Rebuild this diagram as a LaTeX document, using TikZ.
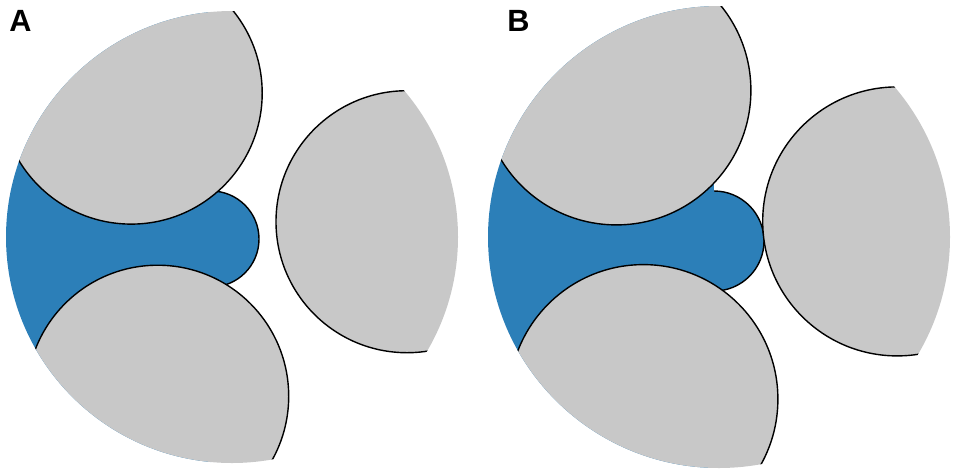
\documentclass[tikz,border=0pt]{standalone}
\usepackage{fontspec}
\setmainfont{Liberation Sans}
\definecolor{cellblue}{RGB}{44,127,184}
\definecolor{cellgray}{RGB}{200,200,200}
\begin{document}
\begin{tikzpicture}[x=1pt,y=-1pt,
  graycell/.style={fill=cellgray,draw=black,line width=1.4pt},
  bluefill/.style={fill=cellblue},
  blueedge/.style={draw=black,line width=1.4pt},
  paneltag/.style={font=\fontsize{30.7}{32}\selectfont\bfseries,inner sep=0pt}]
\useasboundingbox (0,0) rectangle (957,475);
% ---------- panel A ----------
\begin{scope}
  \clip (232,237) circle[radius=226pt];
  \fill[bluefill] (0,0) rectangle (211,475);
  \fill[bluefill] (211,239) circle[radius=48pt];
  \begin{scope}
    \clip (211,0) rectangle (480,475);
    \draw[blueedge] (211,239) circle[radius=48pt];
  \end{scope}
  \path[graycell] (131.2,93.1) circle[radius=131pt];
  \path[graycell] (157.7,396.2) circle[radius=131pt];
  \path[graycell] (407.0,221.7) circle[radius=131pt];
\end{scope}
% ---------- panel B ----------
\begin{scope}
  \clip (719,237) circle[radius=231pt];
  \fill[bluefill] (480,0) rectangle (714,475);
  \fill[bluefill] (714,241) circle[radius=50pt];
  \begin{scope}
    \clip (714,0) rectangle (957,475);
    \draw[blueedge] (714,241) circle[radius=50pt];
  \end{scope}
  \path[graycell] (616.4,90.4) circle[radius=134.5pt];
  \path[graycell] (643.4,399.1) circle[radius=134.5pt];
  \path[graycell] (897.2,221.4) circle[radius=134.5pt];
\end{scope}
\node[paneltag] (labA) at (20.5,21) {A};
\node[paneltag] (labB) at (518.5,21) {B};
\end{tikzpicture}
\end{document}
